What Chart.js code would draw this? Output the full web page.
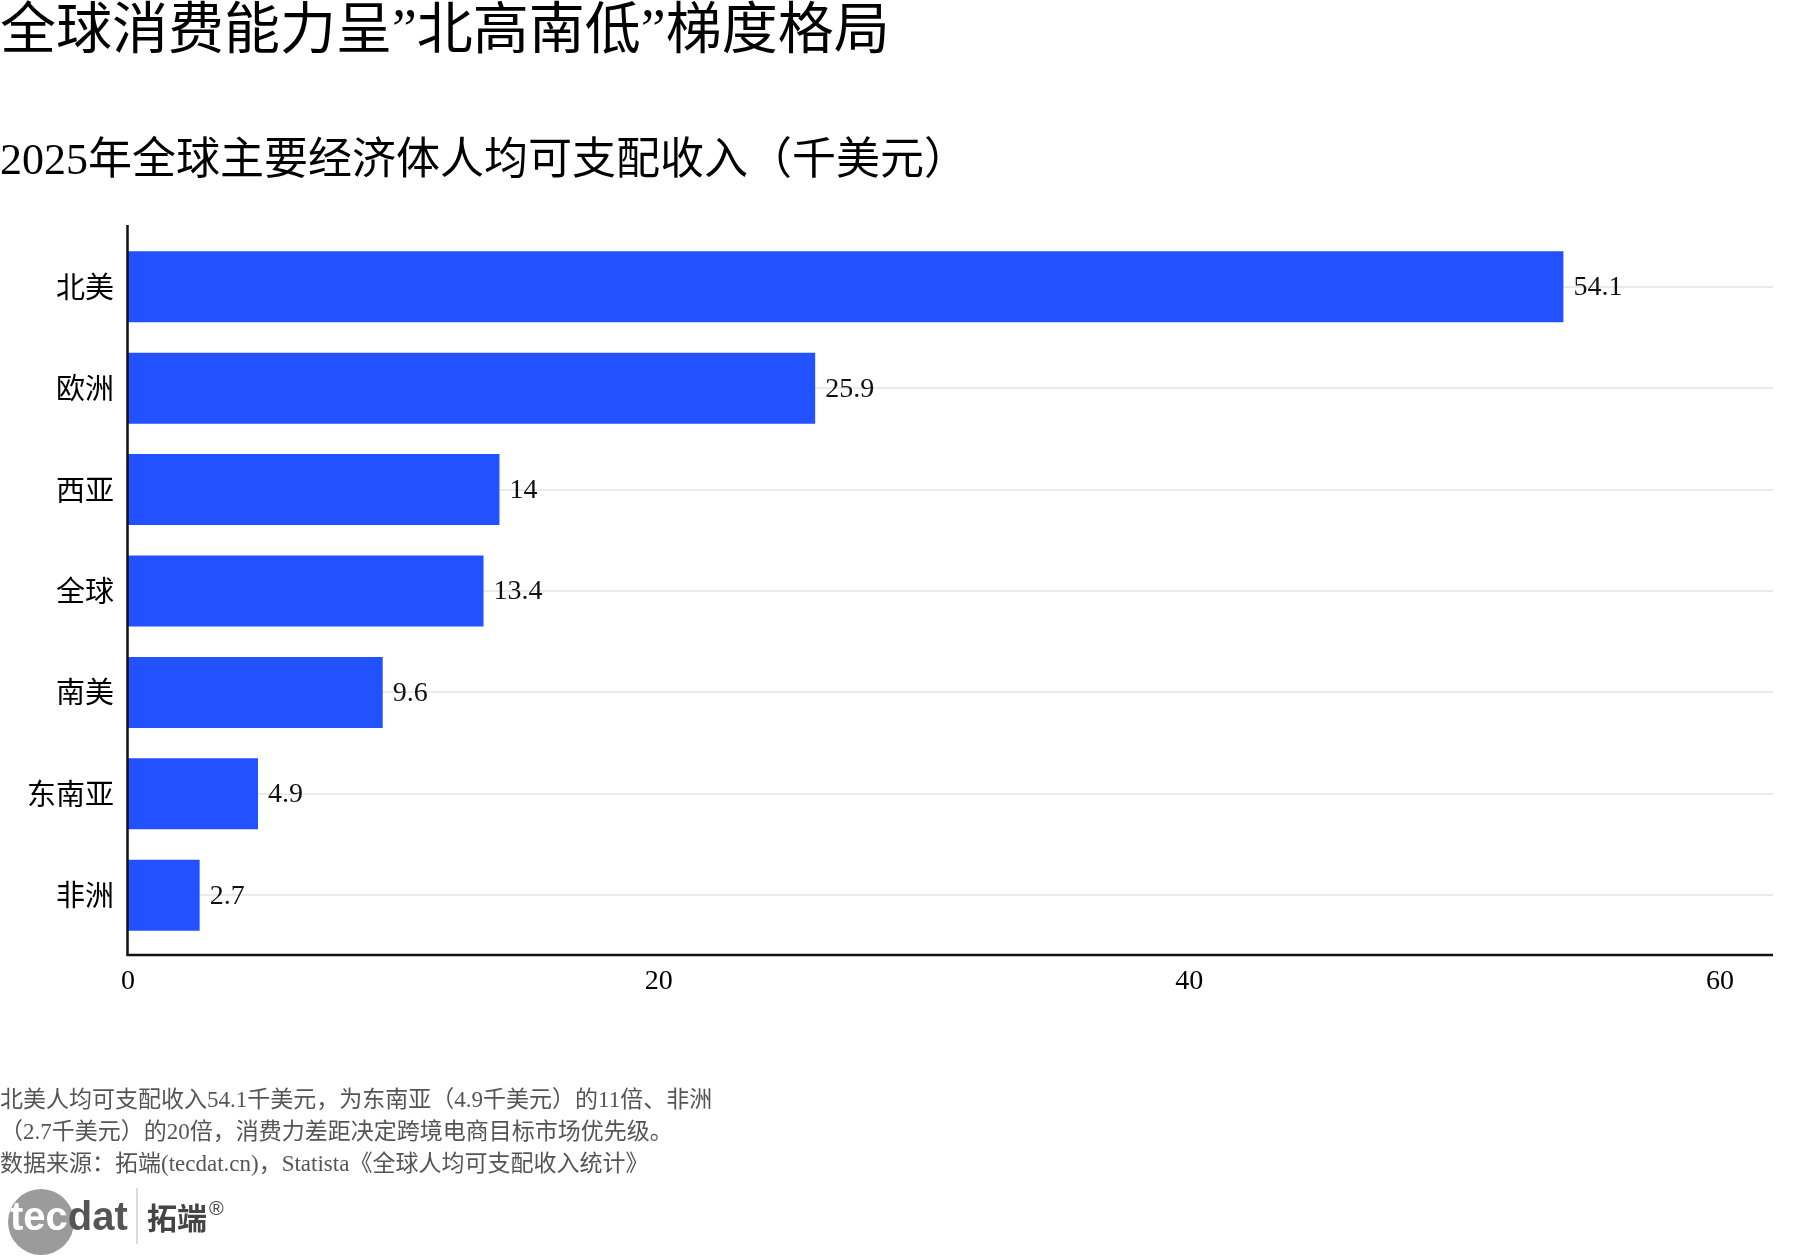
<!DOCTYPE html>
<html>
<head>
<meta charset="utf-8">
<script src="https://cdn.jsdelivr.net/npm/chart.js@4/dist/chart.umd.min.js"></script>
<style>
html,body{margin:0;padding:0;background:#fff;}
#wrap{width:1800px;height:1260px;position:relative;}
</style>
</head>
<body>
<div id="wrap"><canvas id="c"></canvas></div>
<script>
const titleText = '全球消费能力呈”北高南低”梯度格局';
const subtitleText = '2025年全球主要经济体人均可支配收入（千美元）';
const categories = ['北美', '欧洲', '西亚', '全球', '南美', '东南亚', '非洲'];
const incomeValues = [54.1, 25.9, 14, 13.4, 9.6, 4.9, 2.7];
const valueLabels = ['54.1', '25.9', '14', '13.4', '9.6', '4.9', '2.7'];
const xTickValues = [0, 20, 40, 60];
const xAxisMax = 62;
const footnoteLines = [
  '北美人均可支配收入54.1千美元，为东南亚（4.9千美元）的11倍、非洲',
  '（2.7千美元）的20倍，消费力差距决定跨境电商目标市场优先级。',
  '数据来源：拓端(tecdat.cn)，Statista《全球人均可支配收入统计》'
];

const SERIF = '"Liberation Serif", "Noto Sans CJK SC", serif';
const CJK = '"Noto Sans CJK SC", sans-serif';
Chart.defaults.font.family = SERIF;
Chart.defaults.color = '#000';

const decorPlugin = {
  id: 'decor',
  afterDatasetsDraw(chart) {
    const ctx = chart.ctx;
    const a = chart.chartArea;
    ctx.save();
    ctx.strokeStyle = '#111';
    ctx.lineWidth = 2.5;
    ctx.beginPath();
    ctx.moveTo(a.left - 0.5, a.top - 11);
    ctx.lineTo(a.left - 0.5, a.bottom + 9);
    ctx.lineTo(a.right, a.bottom + 9);
    ctx.stroke();
    const meta = chart.getDatasetMeta(0);
    ctx.font = '28px ' + SERIF;
    ctx.fillStyle = '#111';
    ctx.textAlign = 'left';
    ctx.textBaseline = 'middle';
    meta.data.forEach((el, i) => {
      ctx.fillText(valueLabels[i], el.x + 10, el.y + 1);
    });
    ctx.restore();
  },
  afterDraw(chart) {
    const ctx = chart.ctx;
    ctx.save();
    ctx.font = '23px ' + SERIF;
    ctx.fillStyle = '#555';
    ctx.textAlign = 'left';
    ctx.textBaseline = 'middle';
    const ys = [1101, 1133, 1165];
    footnoteLines.forEach((t, i) => ctx.fillText(t, 0, ys[i]));
    // logo
    ctx.fillStyle = '#9b9b9b';
    ctx.beginPath();
    ctx.arc(41, 1222, 33, 0, Math.PI * 2);
    ctx.fill();
    ctx.font = 'bold 40px "Liberation Sans", "DejaVu Sans", sans-serif';
    ctx.textBaseline = 'alphabetic';
    ctx.fillStyle = '#ffffff';
    ctx.fillText('tec', 10, 1230);
    const w = ctx.measureText('tec').width;
    ctx.fillStyle = '#555';
    ctx.fillText('dat', 10 + w, 1230);
    ctx.strokeStyle = '#cfcfcf';
    ctx.lineWidth = 1.5;
    ctx.beginPath();
    ctx.moveTo(137, 1188);
    ctx.lineTo(137, 1244);
    ctx.stroke();
    ctx.fillStyle = '#444';
    ctx.font = 'bold 30px ' + CJK;
    ctx.textBaseline = 'middle';
    ctx.fillText('拓端', 147, 1218);
    ctx.font = '20px "Liberation Sans", sans-serif';
    ctx.fillText('®', 209, 1209);
    ctx.restore();
  }
};

new Chart(document.getElementById('c'), {
  type: 'bar',
  data: {
    labels: categories,
    datasets: [{
      data: incomeValues,
      backgroundColor: '#2251FF',
      borderWidth: 0,
      categoryPercentage: 0.7,
      barPercentage: 1.0
    }]
  },
  options: {
    indexAxis: 'y',
    responsive: true,
    maintainAspectRatio: false,
    animation: false,
    layout: { padding: { left: 0, right: 27, top: 0, bottom: 254 } },
    plugins: {
      legend: { display: false },
      tooltip: { enabled: false },
      title: {
        display: true,
        text: titleText,
        align: 'start',
        color: '#000',
        font: { family: '"Liberation Serif", "Noto Sans CJK SC", sans-serif', size: 56, weight: 'normal', lineHeight: 1.0 },
        padding: { top: 5, bottom: 0 }
      },
      subtitle: {
        display: true,
        text: subtitleText,
        align: 'start',
        color: '#000',
        font: { family: SERIF, size: 44, weight: 'normal', lineHeight: 1.0 },
        padding: { top: 79, bottom: 52 }
      }
    },
    scales: {
      x: {
        type: 'linear',
        min: 0,
        max: xAxisMax,
        grid: { display: false, drawTicks: false },
        border: { display: false },
        afterBuildTicks(scale) {
          scale.ticks = xTickValues.map(v => ({ value: v }));
        },
        afterFit(scale) { scale.height = 60; },
        ticks: {
          padding: 19,
          color: '#000',
          font: { family: SERIF, size: 28 },
          maxRotation: 0
        }
      },
      y: {
        type: 'category',
        grid: { display: true, offset: false, color: '#ebebeb', lineWidth: 2, drawTicks: false },
        border: { display: false },
        afterFit(scale) { scale.width = 128; },
        ticks: {
          padding: 14,
          color: '#000',
          font: { family: CJK, size: 29 }
        }
      }
    }
  },
  plugins: [decorPlugin]
});
</script>
</body>
</html>
